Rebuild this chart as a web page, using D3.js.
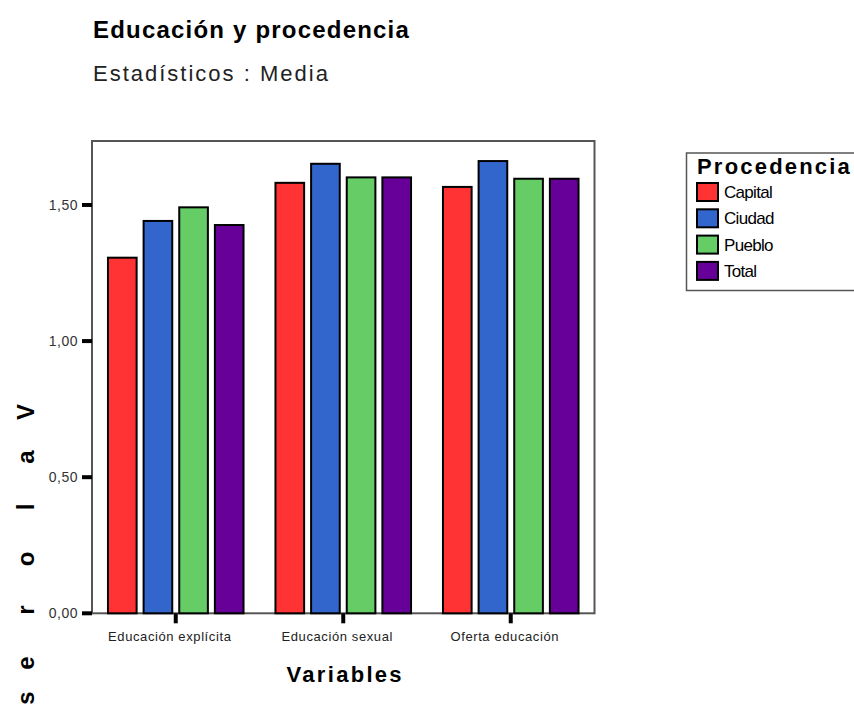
<!DOCTYPE html>
<html lang="es">
  <head>
    <meta charset="UTF-8" />
    <title>Educación y procedencia</title>
    <style>
      body {
        margin: 0;
        background: #fff;
      }
      svg {
        display: block;
        font-family: Arial, "Liberation Sans", sans-serif;
      }
      .bar rect {
        stroke: #000;
        stroke-width: 2;
      }
      .ytick text {
        font-size: 14px;
        letter-spacing: 0.5px;
        fill: #333;
      }
      .xtick text {
        font-size: 13px;
        letter-spacing: 0.6px;
        fill: #222;
      }
      .legend text {
        font-size: 17px;
        letter-spacing: -0.7px;
      }
    </style>
    <script src="https://cdn.jsdelivr.net/npm/d3@7"></script>
  </head>
  <body>
    <div class="container"></div>
    <script>
      // datos
      const categories = ["Educación explícita", "Educación sexual", "Oferta educación"];
      const groups = ["Capital", "Ciudad", "Pueblo", "Total"];
      const capital = [1.31, 1.585, 1.57];
      const ciudad = [1.445, 1.655, 1.665];
      const pueblo = [1.495, 1.605, 1.60];
      const total = [1.43, 1.605, 1.60];
      const yTicks = [0, 0.5, 1.0, 1.5];
      const colors = ["#ff3333", "#3366cc", "#66cc66", "#660099"];

      const series = [capital, ciudad, pueblo, total];
      const data = categories.map((c, i) => ({
        cat: c,
        vals: groups.map((g, j) => ({ key: g, val: series[j][i] }))
      }));

      const width = 854,
        height = 704;
      const plot = { left: 92, top: 141, right: 594.5, bottom: 613.3 };

      const svg = d3
        .select(".container")
        .append("svg")
        .attr("width", width)
        .attr("height", height);

      // titulos
      svg
        .append("text")
        .attr("x", 93)
        .attr("y", 38)
        .style("font-size", "24px")
        .style("font-weight", "bold")
        .style("letter-spacing", "1.2px")
        .text("Educación y procedencia");

      svg
        .append("text")
        .attr("x", 93)
        .attr("y", 81)
        .style("font-size", "22px")
        .style("letter-spacing", "2px")
        .style("fill", "#222")
        .text("Estadísticos : Media");

      const x0 = d3
        .scaleBand()
        .domain(categories)
        .range([plot.left, plot.right])
        .padding(0);

      const x1 = d3
        .scaleBand()
        .domain(groups)
        .range([0, x0.bandwidth()])
        .paddingInner(0.14)
        .paddingOuter(0.42);

      const y = d3.scaleLinear().domain([0, 1.735]).range([plot.bottom, plot.top]);

      const color = d3.scaleOrdinal().domain(groups).range(colors);

      // marco
      svg
        .append("rect")
        .attr("x", plot.left)
        .attr("y", plot.top)
        .attr("width", plot.right - plot.left)
        .attr("height", plot.bottom - plot.top)
        .attr("fill", "none")
        .attr("stroke", "#555")
        .attr("stroke-width", 2);

      // barras
      const g = svg
        .selectAll(".bar")
        .data(data)
        .enter()
        .append("g")
        .attr("class", "bar")
        .attr("transform", (d) => "translate(" + x0(d.cat) + ",0)");

      g.selectAll("rect")
        .data((d) => d.vals)
        .enter()
        .append("rect")
        .attr("x", (d) => x1(d.key) + 1)
        .attr("width", x1.bandwidth() - 2)
        .attr("y", (d) => y(d.val) + 1)
        .attr("height", (d) => y(0) - y(d.val) - 1)
        .attr("fill", (d) => color(d.key));

      // eje y
      const yt = svg
        .selectAll(".ytick")
        .data(yTicks)
        .enter()
        .append("g")
        .attr("class", "ytick")
        .attr("transform", (d) => "translate(0," + y(d) + ")");

      yt.append("line")
        .attr("x1", plot.left - 10)
        .attr("x2", plot.left)
        .attr("stroke", "#000")
        .attr("stroke-width", 4);

      yt.append("text")
        .attr("x", plot.left - 14)
        .attr("dy", "0.36em")
        .attr("text-anchor", "end")
        .text((d) => d3.format(".2f")(d).replace(".", ","));

      // eje x
      const xt = svg
        .selectAll(".xtick")
        .data(categories)
        .enter()
        .append("g")
        .attr("class", "xtick")
        .attr("transform", (d) => "translate(" + (x0(d) + x0.bandwidth() / 2) + "," + plot.bottom + ")");

      xt.append("line")
        .attr("y1", 0)
        .attr("y2", 10)
        .attr("stroke", "#000")
        .attr("stroke-width", 4);

      xt.append("text")
        .attr("x", -6)
        .attr("y", 28)
        .attr("text-anchor", "middle")
        .text((d) => d);

      svg
        .append("text")
        .attr("x", (plot.left + plot.right) / 2 + 2)
        .attr("y", 682)
        .attr("text-anchor", "middle")
        .style("font-size", "22px")
        .style("font-weight", "bold")
        .style("letter-spacing", "2.3px")
        .text("Variables");

      // etiqueta eje y: letras giradas, una debajo de otra
      const yLabel = "Valores".split("");
      const yLabelStep = [0, 45, 95, 147, 198, 251, 286];
      svg
        .append("g")
        .selectAll("text")
        .data(yLabel)
        .enter()
        .append("text")
        .attr("text-anchor", "middle")
        .attr("transform", (d, i) => "translate(34," + (412 + yLabelStep[i]) + ") rotate(-90)")
        .style("font-size", "24px")
        .style("font-weight", "bold")
        .text((d) => d);

      // leyenda
      const legend = svg.append("g").attr("class", "legend");

      legend
        .append("rect")
        .attr("x", 686.5)
        .attr("y", 153)
        .attr("width", 180)
        .attr("height", 137.5)
        .attr("fill", "#fff")
        .attr("stroke", "#555")
        .attr("stroke-width", 1.5);

      legend
        .append("text")
        .attr("x", 697)
        .attr("y", 174)
        .style("font-size", "22px")
        .style("font-weight", "bold")
        .style("letter-spacing", "2.2px")
        .text("Procedencia");

      const li = legend
        .selectAll(".item")
        .data(groups)
        .enter()
        .append("g")
        .attr("class", "item")
        .attr("transform", (d, i) => "translate(697," + (183 + i * 26.3) + ")");

      li.append("rect")
        .attr("width", 21)
        .attr("height", 18)
        .attr("fill", color)
        .attr("stroke", "#000")
        .attr("stroke-width", 2);

      li.append("text")
        .attr("x", 27)
        .attr("y", 15)
        .text((d) => d);
    </script>
  </body>
</html>
